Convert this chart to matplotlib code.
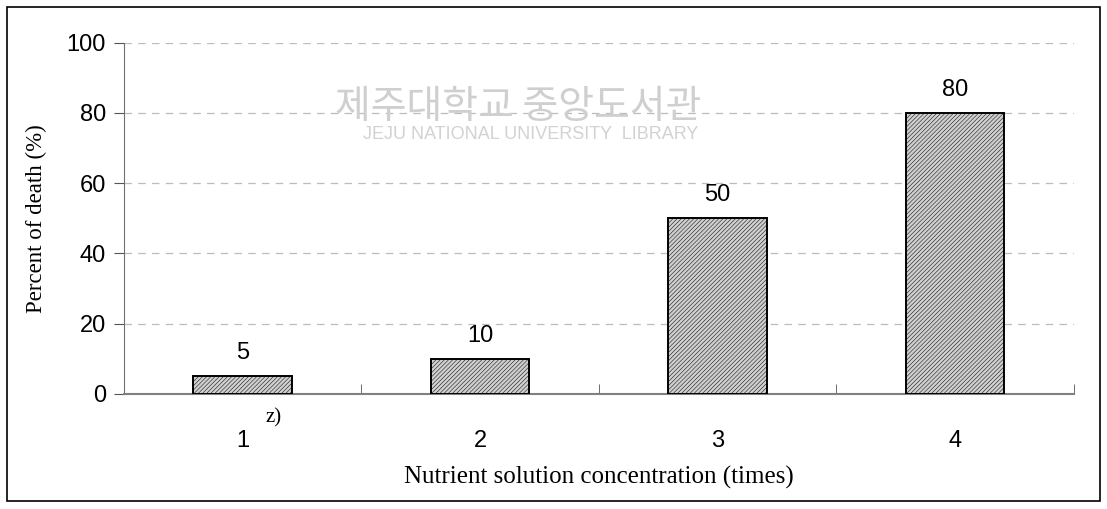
import numpy as np
import matplotlib.pyplot as plt
from matplotlib.patches import Rectangle

# data
concentration = ['1', '2', '3', '4']
death_pct = [5, 10, 50, 80]
y_ticks = [0, 20, 40, 60, 80, 100]

plt.rcParams['hatch.color'] = '#b0b0b0'
plt.rcParams['hatch.linewidth'] = 0.35

fig = plt.figure(figsize=(11.07, 5.09), dpi=100)
ax = fig.add_axes([0.112, 0.226, 0.858, 0.690])

x = np.arange(len(concentration))
bars = ax.bar(x, death_pct, width=0.415, color='#d0d0d0', edgecolor='black',
              linewidth=1.4, hatch='////////', zorder=3)

for xi, v in zip(x, death_pct):
    ax.text(xi, v + 3.5, str(v), ha='center', va='bottom', fontsize=17,
            family='Liberation Sans', zorder=4)

ax.set_xlim(-0.5, len(concentration) - 0.5)
ax.set_ylim(0, 100)
ax.set_yticks(y_ticks)
ax.set_yticklabels([str(t) for t in y_ticks], family='Liberation Sans', fontsize=17)
ax.set_xticks(x)
ax.set_xticklabels(concentration, family='Liberation Sans', fontsize=17)
ax.tick_params(axis='x', length=0, pad=26)
ax.set_xticks(np.arange(len(concentration) + 1) - 0.5, minor=True)
ax.tick_params(axis='x', which='minor', direction='in', length=7, color='#555555')
ax.tick_params(axis='y', direction='out', length=7, color='#555555', pad=6)

ax.grid(axis='y', linestyle=(0, (6, 5)), color='#bcbcbc', linewidth=0.9, zorder=0)
for s in ['top', 'right']:
    ax.spines[s].set_visible(False)
ax.spines['left'].set_color('#707070')
ax.spines['bottom'].set_color('#808080')
ax.spines['bottom'].set_linewidth(1.5)

ax.set_ylabel('Percent of death (%)', family='Liberation Serif', fontsize=16.5, labelpad=14)
ax.set_xlabel('Nutrient solution concentration (times)', family='Liberation Serif',
              fontsize=18, labelpad=10)

# superscript note next to first tick label
ax.text(0.13, -0.04, 'z)', transform=ax.get_xaxis_transform(), family='Liberation Serif',
        fontsize=15, ha='center', va='top')

# library watermark
fig.text(0.468, 0.79, '제주대학교 중앙도서관', family=['Noto Sans CJK KR', 'DejaVu Sans'],
         fontsize=28, color='#cfcfcf', ha='center', va='center')
fig.text(0.479, 0.735, 'JEJU NATIONAL UNIVERSITY  LIBRARY', family='Liberation Sans',
         fontsize=13, color='#d2d2d2', ha='center', va='center')

# figure border
fig.patches.append(Rectangle((0.006, 0.016), 0.988, 0.97, transform=fig.transFigure,
                             fill=False, edgecolor='black', linewidth=1.2))

fig.savefig('out.png', dpi=100)
